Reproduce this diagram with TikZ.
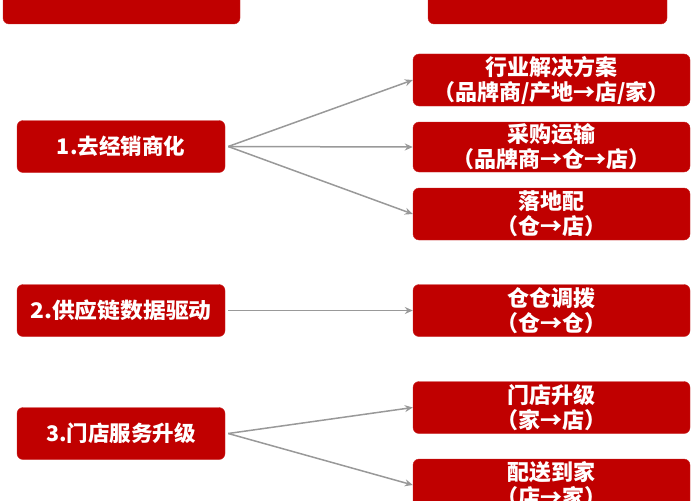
\documentclass[tikz,border=0pt]{standalone}
\usepackage{fontspec}
\usepackage{graphicx}
\newfontfamily\cjk{Noto Sans CJK SC}
\usetikzlibrary{arrows.meta}
\definecolor{boxred}{HTML}{C00000}
\definecolor{arrgray}{HTML}{999999}
\tikzset{
  redbox/.style={fill=boxred, draw=boxred!85!white, rounded corners=6pt, text=white, inner sep=0pt, align=center},
  leftbox/.style={redbox, minimum width=208pt, minimum height=52pt, font=\cjk\bfseries\fontsize{21.5}{26}\selectfont},
  rightbox/.style={redbox, minimum width=277pt, minimum height=52pt, font=\cjk\bfseries\fontsize{22}{25}\selectfont},
  conn/.style={draw=arrgray, line width=1.5pt, -{Stealth[length=8pt,width=7pt]}},
}
\begin{document}
\begin{tikzpicture}[x=1pt,y=-1pt]
\useasboundingbox (0,0) rectangle (700,500);
\clip (0,0) rectangle (700,500);
% cut-off top boxes
\node[leftbox, minimum width=237pt] (t1) at (121.5,-2) {};
\node[leftbox, minimum width=239pt] (t2) at (547.5,-2) {};
% left boxes
\node[leftbox] (a) at (121,146.5) {1.去经销商化};
\node[leftbox] (b) at (121,310.5) {\scalebox{1.06}[1]{2.供应链数据驱动}};
\node[leftbox] (c) at (121,433.5) {3.门店服务升级};
% right boxes
\node[rightbox] (r1) at (551.5,80) {行业解决方案\\（品牌商/产地→店/家）};
\node[rightbox, minimum height=50pt] (r2) at (551.5,147) {采购运输\\（品牌商→仓→店）};
\node[rightbox] (r3) at (551.5,214) {落地配\\（仓→店）};
\node[rightbox] (r4) at (551.5,310.5) {仓仓调拨\\（仓→仓）};
\node[rightbox] (r5) at (551.5,407.5) {门店升级\\（家→店）};
\node[rightbox] (r6) at (551.5,485) {配送到家\\（店→家）};
% connectors
\draw[conn] ([xshift=3pt]a.east) -- (r1.west);
\draw[conn] ([xshift=3pt]a.east) -- (r2.west);
\draw[conn] ([xshift=3pt]a.east) -- (r3.west);
\draw[conn] ([xshift=3pt]b.east) -- (r4.west);
\draw[conn] ([xshift=3pt]c.east) -- (r5.west);
\draw[conn] ([xshift=3pt]c.east) -- (r6.west);
\end{tikzpicture}
\end{document}
